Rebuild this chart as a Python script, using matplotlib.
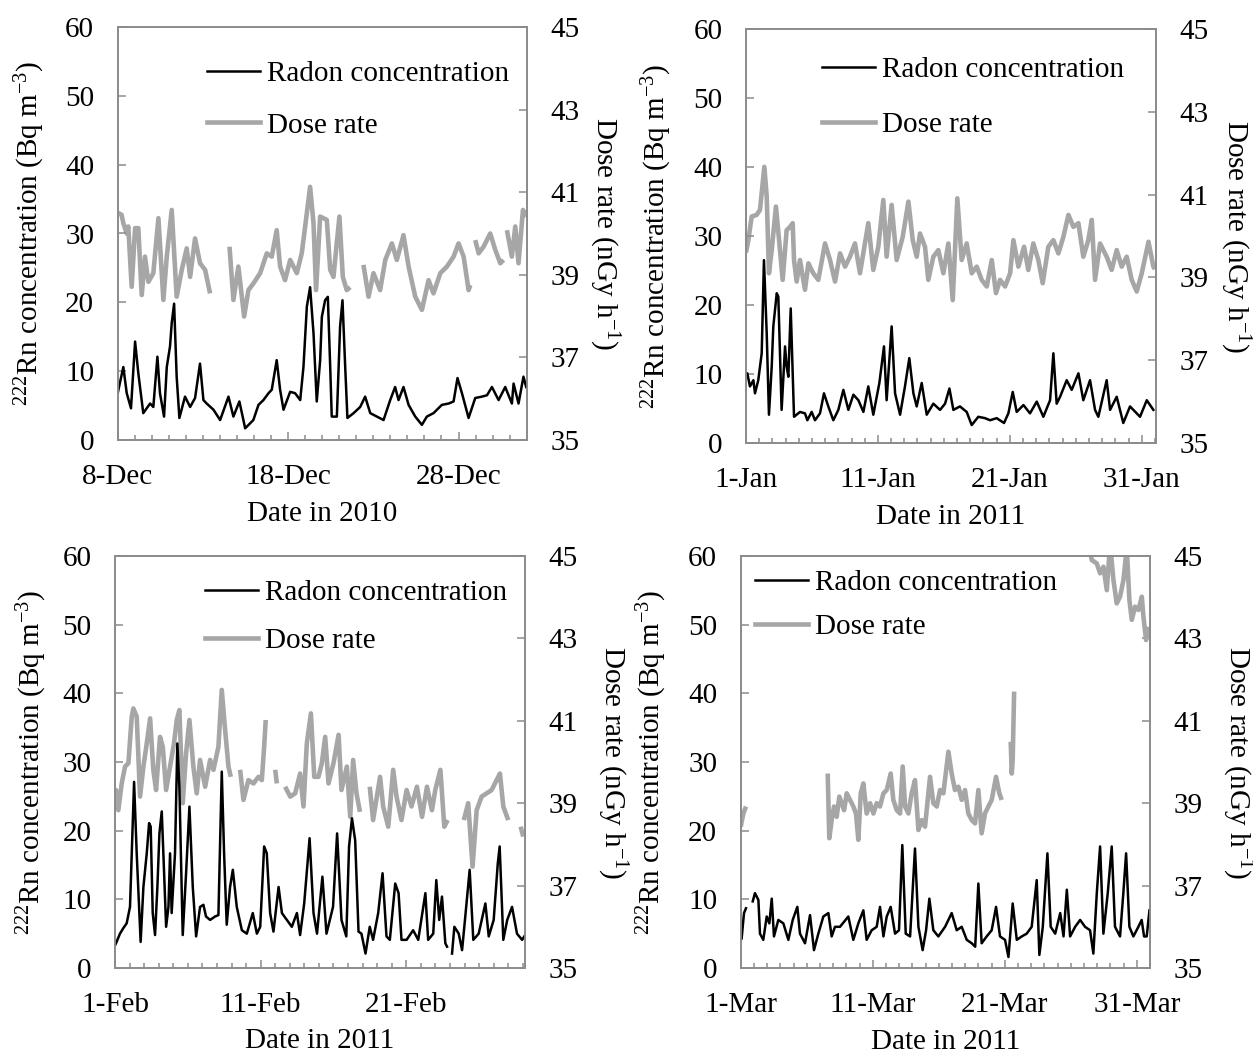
import numpy as np
import matplotlib
matplotlib.use("Agg")
import matplotlib.pyplot as plt
from matplotlib.ticker import FixedLocator, MultipleLocator
from matplotlib.lines import Line2D

plt.rcParams['font.family'] = ['Liberation Serif', 'DejaVu Serif']
plt.rcParams['mathtext.fontset'] = 'custom'
plt.rcParams['mathtext.rm'] = 'Liberation Serif'
plt.rcParams['mathtext.it'] = 'Liberation Serif:italic'
plt.rcParams['mathtext.bf'] = 'Liberation Serif:bold'
plt.rcParams['font.size'] = 21

N = None

# ---------------- Panel 1: Dec 2010 (days since 8-Dec) ----------------
p1_ticklabels = ['8-Dec', '18-Dec', '28-Dec']
p1_xlabel = 'Date in 2010'
p1_rn_t = [0.0, 0.33, 0.53, 0.78, 1.02, 1.21, 1.50, 1.90, 2.09, 2.33, 2.48, 2.72, 2.88, 3.07, 3.17, 3.31,
           3.46, 3.62, 3.95, 4.25, 4.54, 4.83, 5.03, 5.22, 5.62, 6.01, 6.50, 6.79, 7.14, 7.48, 7.96, 8.26,
           8.55, 8.85, 9.04, 9.33, 9.53, 9.73, 10.12, 10.41, 10.71, 10.90, 11.10, 11.29, 11.49, 11.68, 11.88,
           11.98, 12.17, 12.33, 12.47, 12.56, 12.86, 13.05, 13.19, 13.35, 13.48, 13.84, 14.23, 14.52, 14.82,
           15.21, 15.60, 15.99, 16.28, 16.48, 16.77, 17.07, 17.46, 17.85, 18.14, 18.53, 19.02, 19.42, 19.71,
           19.94, 20.20, 20.59, 20.98, 21.37, 21.67, 21.96, 22.35, 22.74, 23.13, 23.23, 23.52, 23.81, 23.97]
p1_rn_v = [6.8, 10.6, 6.8, 4.6, 14.3, 9.7, 3.9, 5.3, 4.8, 12.1, 6.8, 3.4, 10.6, 13.6, 17.0, 19.8,
           9.2, 3.2, 6.3, 4.8, 6.1, 11.1, 5.8, 5.3, 4.4, 2.9, 6.3, 3.4, 5.6, 1.7, 2.9, 5.1,
           5.8, 6.8, 7.3, 11.6, 7.3, 4.4, 7.0, 6.8, 5.8, 10.6, 19.4, 22.2, 15.5, 5.6, 11.6,
           17.9, 20.3, 20.8, 10.6, 3.4, 3.4, 16.5, 20.3, 10.6, 3.2, 3.9, 4.8, 6.3, 3.9,
           3.4, 2.9, 5.8, 7.7, 5.8, 7.7, 5.1, 3.4, 2.2, 3.4, 3.9, 5.1, 5.3, 5.6,
           9.0, 6.8, 3.2, 6.1, 6.3, 6.5, 7.7, 5.8, 7.7, 5.3, 8.2, 5.3, 9.2, 7.7]
p1_dr_t = [0.02, 0.23, 0.33, 0.53, 0.62, 0.82, 1.02, 1.21, 1.41, 1.60, 1.80, 2.09, 2.39, 2.68, 2.88, 3.17,
           3.46, 3.76, 4.05, 4.25, 4.54, 4.83, 5.13, 5.42, 5.90,
           6.56, 6.79, 7.08, 7.42, 7.67, 7.96, 8.36, 8.75, 9.04, 9.33, 9.53, 9.82, 10.12, 10.51, 10.80,
           11.00, 11.29, 11.49, 11.64, 11.88, 12.27, 12.47, 12.66, 13.01, 13.21, 13.44, 13.64, 14.00,
           14.42, 14.72, 15.01, 15.40, 15.70, 16.09, 16.38, 16.77, 17.07, 17.46, 17.85, 18.24, 18.53,
           18.93, 19.32, 19.71, 20.00, 20.30, 20.59, 20.69, 20.85,
           20.98, 21.18, 21.47, 21.86, 22.16, 22.45, 22.64, 22.75,
           22.84, 23.13, 23.33, 23.52, 23.78, 23.98]
p1_dr_v = [40.5, 40.45, 40.25, 40.0, 40.17, 38.71, 40.13, 40.13, 38.51, 39.44, 38.83, 39.04, 40.37, 38.39, 39.44, 40.57,
           38.47, 39.12, 39.64, 38.95, 39.88, 39.28, 39.12, 38.55, N,
           39.68, 38.39, 39.20, 37.99, 38.63, 38.79, 39.04, 39.52, 39.44, 40.08, 39.20, 38.87, 39.36, 39.04, 39.52,
           40.17, 41.13, 40.25, 38.63, 40.41, 40.33, 39.12, 38.95, 40.41, 38.95, 38.63, 38.70, N,
           39.24, 38.47, 39.04, 38.63, 39.36, 39.76, 39.36, 39.96, 39.20, 38.47, 38.15, 38.87, 38.55,
           39.04, 39.20, 39.44, 39.76, 39.44, 38.63, 38.75, N,
           39.84, 39.52, 39.68, 40.00, 39.60, 39.28, 39.36, N,
           40.08, 39.44, 40.17, 39.28, 40.57, 40.41]

# ---------------- Panel 2: Jan 2011 (days since 1-Jan) ----------------
p2_ticklabels = ['1-Jan', '11-Jan', '21-Jan', '31-Jan']
p2_xlabel = 'Date in 2011'
p2_rn_t = [0.0, 0.10, 0.30, 0.56, 0.68, 0.93, 1.19, 1.36, 1.57, 1.74, 1.95, 2.07, 2.33, 2.45, 2.70, 2.96, 3.08,
           3.21, 3.39, 3.64, 4.09, 4.47, 4.65, 4.98, 5.23, 5.61, 5.91, 6.24, 6.62, 7.00, 7.38, 7.76, 8.14,
           8.52, 8.90, 9.27, 9.65, 10.11, 10.46, 10.66, 11.04, 11.30, 11.68, 12.05, 12.38, 12.69, 12.94,
           13.32, 13.70, 14.20, 14.71, 15.09, 15.42, 15.72, 16.22, 16.73, 17.11, 17.61, 18.12, 18.50, 19.00,
           19.56, 19.89, 20.22, 20.52, 21.03, 21.53, 22.04, 22.54, 23.05, 23.30, 23.55, 23.81, 24.31, 24.69,
           25.20, 25.57, 26.08, 26.46, 26.71, 27.34, 27.60, 28.10, 28.60, 29.11, 29.87, 30.38, 30.88]
p2_rn_v = [10.0, 10.1, 8.2, 9.1, 7.2, 9.1, 13.0, 26.5, 15.9, 4.1, 11.1, 16.9, 21.7, 21.2, 4.8, 14.0, 11.1,
           9.6, 19.5, 3.8, 4.5, 4.3, 3.3, 4.5, 3.3, 4.3, 7.2, 5.3, 3.3, 4.8, 7.7, 4.8, 7.0,
           6.2, 4.5, 8.2, 4.1, 8.7, 14.0, 6.2, 16.9, 7.2, 4.1, 8.2, 12.3, 7.2, 5.3,
           8.7, 4.1, 5.7, 4.8, 5.7, 7.9, 4.8, 5.3, 4.5, 2.6, 3.8, 3.6, 3.3, 3.6,
           2.9, 4.3, 7.4, 4.5, 5.5, 4.3, 6.0, 3.8, 6.2, 13.0, 5.7, 6.7, 9.1, 7.7,
           10.1, 6.2, 9.1, 4.8, 3.8, 9.1, 4.8, 6.7, 2.9, 5.3, 3.8, 6.2, 4.8]
p2_dr_t = [0.0, 0.18, 0.43, 0.81, 1.06, 1.39, 1.57, 1.74, 1.95, 2.27, 2.53, 2.78, 3.08, 3.34, 3.54, 3.64, 3.84,
           4.09, 4.47, 4.73, 5.10, 5.48, 5.99, 6.37, 6.75, 7.13, 7.51, 7.88, 8.26, 8.64, 9.27, 9.65, 10.03,
           10.41, 10.66, 11.04, 11.42, 11.88, 12.31, 12.64, 12.94, 13.19, 13.57, 13.82, 14.20, 14.58, 14.96,
           15.34, 15.67, 16.02, 16.35, 16.73, 17.11, 17.49, 17.87, 18.25, 18.63, 18.95, 19.26, 19.64, 20.02,
           20.27, 20.65, 21.08, 21.40, 21.78, 22.16, 22.49, 22.92, 23.30, 23.68, 24.06, 24.44, 24.82, 25.20,
           25.57, 25.95, 26.21, 26.46, 26.84, 27.34, 27.72, 28.10, 28.48, 28.86, 29.24, 29.62, 30.00, 30.51,
           30.88, 31.0]
p2_dr_v = [39.6, 39.90, 40.47, 40.51, 40.63, 41.67, 40.95, 39.10, 39.66, 40.71, 39.82, 38.94, 40.14, 40.22, 40.31, 39.42, 38.90,
           39.42, 38.70, 39.34, 39.10, 38.94, 39.82, 39.42, 38.90, 39.58, 39.26, 39.50, 39.82, 39.10, 40.31, 39.18, 39.74,
           40.87, 39.50, 40.75, 39.42, 39.98, 40.83, 39.90, 39.50, 40.06, 39.74, 38.94, 39.50, 39.66, 39.10,
           39.82, 38.45, 40.91, 39.42, 39.82, 39.10, 39.26, 38.94, 38.78, 39.42, 38.62, 38.94, 38.78, 39.10,
           39.90, 39.26, 39.74, 39.18, 39.82, 39.42, 38.86, 39.74, 39.90, 39.58, 39.98, 40.51, 40.22, 40.31,
           39.50, 39.90, 40.39, 38.94, 39.82, 39.50, 39.18, 39.66, 39.26, 39.50, 38.94, 38.66, 39.10, 39.86,
           39.26, 39.20]

# ---------------- Panel 3: Feb 2011 (days since 1-Feb) ----------------
p3_ticklabels = ['1-Feb', '11-Feb', '21-Feb']
p3_xlabel = 'Date in 2011'
p3_rn_t = [0.0, 0.07, 0.34, 0.57, 0.80, 1.03, 1.31, 1.49, 1.76, 1.95, 2.18, 2.34, 2.45, 2.59, 2.75, 2.91, 3.05,
           3.21, 3.32, 3.51, 3.67, 3.78, 3.89, 4.12, 4.28, 4.42, 4.65, 4.88, 5.11, 5.34, 5.57, 5.84, 6.07,
           6.25, 6.53, 6.87, 7.10, 7.33, 7.49, 7.67, 7.90, 8.09, 8.36, 8.71, 9.05, 9.46, 9.74, 9.97, 10.24,
           10.42, 10.65, 10.88, 11.23, 11.46, 11.80, 12.14, 12.49, 12.71, 12.99, 13.36, 13.63, 13.87, 14.24,
           14.52, 14.97, 15.25, 15.55, 15.88, 16.07, 16.27, 16.49, 16.72, 16.92, 17.20, 17.49, 17.72, 18.07,
           18.37, 18.64, 18.87, 19.24, 19.47, 19.67, 20.02, 20.47, 20.82, 21.31, 21.50, 21.85, 22.06, 22.26,
           22.45, 22.68, 22.80, 23.00, 23.14, 23.30, 23.60, 23.83, 24.05, 24.35, 24.60, 24.97, 25.43, 25.66,
           26.00, 26.28, 26.41, 26.66, 26.93, 27.26, 27.60, 27.95, 28.10]
p3_rn_v = [3.3, 3.6, 5.0, 5.8, 6.5, 8.9, 27.1, 16.7, 3.8, 11.8, 16.7, 21.1, 20.6, 8.0, 4.8, 11.8, 19.6,
           22.8, 16.7, 6.0, 8.9, 16.7, 8.0, 16.7, 32.7, 26.4, 4.8, 13.8, 23.5, 11.8, 4.6, 8.9, 9.2,
           7.5, 7.0, 7.5, 7.7, 28.6, 16.7, 6.3, 11.8, 14.3, 8.9, 5.5, 5.0, 8.0, 5.0, 6.0, 17.7,
           16.7, 8.0, 5.3, 11.8, 8.0, 7.0, 6.0, 8.0, 4.8, 9.4, 18.9, 8.0, 5.0, 13.3,
           5.0, 8.9, 19.6, 7.0, 4.6, 17.7, 21.8, 18.6, 5.3, 5.0, 2.1, 6.0, 4.1, 8.0,
           13.8, 4.6, 4.1, 12.3, 10.9, 4.1, 4.1, 5.5, 4.1, 10.9, 4.1, 5.0, 12.8, 7.0,
           10.4, 3.6, 3.1, N, 2.1, 6.0, 5.0, 2.6, 7.5, 14.3, 4.1, 5.0, 9.4, 4.6,
           7.0, 15.2, 17.7, 4.1, 7.0, 8.9, 5.0, 4.1, 4.6]
p3_dr_t = [0.0, 0.07, 0.23, 0.46, 0.69, 0.92, 1.15, 1.26, 1.49, 1.72, 1.95, 2.18, 2.41, 2.63, 2.82, 3.09, 3.28,
           3.51, 3.78, 4.05, 4.24, 4.42, 4.65, 4.88, 5.11, 5.38, 5.61, 5.84, 6.19, 6.53, 6.76, 7.10, 7.33,
           7.56, 7.79, 7.95, 8.30,
           8.59, 8.82, 9.16, 9.51, 9.85, 10.08, 10.24, 10.35, 10.70,
           11.00, 11.11, 11.40,
           11.68, 12.03, 12.37, 12.71, 12.94, 13.17, 13.45, 13.68, 13.97, 14.20, 14.43, 14.66, 15.00, 15.35,
           15.55, 15.92, 16.15, 16.35, 16.58, 16.82, 17.20,
           17.49, 17.72, 17.98, 18.20, 18.41, 18.76, 19.10, 19.33, 19.67, 20.02, 20.36, 20.73, 21.08, 21.42,
           21.76, 21.99, 22.34, 22.61, 22.84, 23.40,
           23.95, 24.25, 24.55, 24.83, 25.17, 25.52, 25.86, 26.20, 26.43, 26.66, 27.00, 27.40,
           27.85, 28.03]
p3_dr_v = [39.1, 39.32, 38.83, 39.48, 39.89, 39.97, 41.10, 41.30, 41.10, 39.16, 39.89, 40.45, 41.06, 39.81, 39.32, 40.61, 40.37,
           39.32, 39.89, 40.45, 41.02, 41.26, 39.00, 40.21, 41.02, 39.89, 39.24, 40.05, 39.40, 40.05, 39.81, 40.37, 41.75,
           40.78, 39.89, 39.64, N,
           39.81, 39.08, 39.56, 39.48, 39.64, 39.56, 40.37, 41.02, N,
           39.81, 39.48, N,
           39.40, 39.16, 39.24, 39.72, 38.92, 40.45, 41.18, 39.64, 39.64, 39.97, 40.61, 39.48, 39.97, 40.66,
           39.32, 39.89, 38.67, 40.05, 39.24, 38.79, N,
           39.40, 38.59, 39.16, 39.64, 38.92, 38.43, 39.81, 39.16, 38.59, 39.32, 38.92, 39.40, 38.67, 39.40,
           38.83, 39.32, 39.81, 38.43, 38.59, N,
           38.59, 39.00, 37.46, 38.83, 39.16, 39.24, 39.32, 39.56, 39.72, 38.92, 38.59, N,
           38.43, 38.19]

# ---------------- Panel 4: Mar 2011 (days since 1-Mar) ----------------
p4_ticklabels = ['1-Mar', '11-Mar', '21-Mar', '31-Mar']
p4_xlabel = 'Date in 2011'
p4_rn_t = [0.07, 0.25, 0.40, 0.65, 0.91, 1.08, 1.34, 1.46, 1.71, 1.97, 2.17, 2.35, 2.52, 2.85, 3.23, 3.61, 3.94,
           4.29, 4.49, 4.87, 5.25, 5.55, 5.88, 6.26, 6.64, 6.89, 7.14, 7.52, 8.15, 8.53, 8.91, 9.29, 9.54,
           9.92, 10.30, 10.55, 10.81, 11.06, 11.36, 11.69, 11.99, 12.24, 12.50, 12.83, 13.20, 13.46, 13.78,
           14.04, 14.29, 14.59, 14.97, 15.48, 15.98, 16.36, 16.74, 17.12, 17.50, 17.76, 18.00, 18.25, 18.63,
           19.01, 19.34, 19.64, 20.02, 20.28, 20.60, 20.91, 21.29, 21.66, 22.04, 22.42, 22.62, 22.88, 23.23,
           23.48, 23.82, 24.20, 24.45, 24.70, 24.95, 25.33, 25.71, 26.08, 26.46, 26.71, 26.97, 27.22, 27.47,
           27.80, 28.10, 28.35, 28.73, 28.98, 29.19, 29.44, 29.74, 30.12, 30.37, 30.55, 30.75, 30.96]
p4_rn_v = [4.3, 8.0, 8.7, N, 9.7, 10.9, 9.9, 5.0, 4.1, 7.5, 6.5, 10.1, 4.6, 7.0, 6.5, 4.1, 7.0,
           8.9, 5.0, 3.6, 7.7, 2.6, 5.0, 7.5, 8.0, 4.6, 6.0, 6.0, 7.5, 4.1, 6.5, 8.4, 4.1,
           5.5, 6.0, 8.9, 4.6, 7.5, 8.9, 5.0, 5.5, 17.9, 5.0, 4.6, 17.4, 6.0, 2.6,
           5.5, 10.1, 5.5, 4.6, 6.0, 8.0, 5.5, 6.0, 4.1, 3.6, 3.1, 12.3, 3.6, 4.6,
           5.5, 8.9, 4.6, 4.1, 1.6, 9.4, 4.1, 4.6, 5.0, 6.0, 12.8, 1.9, 6.0, 16.7,
           6.0, 5.0, 8.0, 4.6, 11.4, 4.6, 6.0, 7.0, 6.0, 5.5, 2.1, 10.9, 17.7, 5.0,
           10.9, 17.7, 6.0, 4.6, 10.9, 16.7, 6.0, 4.6, 6.0, 7.0, 4.6, 4.6, 8.4]
p4_dr_t = [0.0, 0.20, 0.40, 3.00,
           6.59, 6.71, 6.89, 7.07, 7.27, 7.47, 7.65, 7.83, 8.03, 8.28, 8.53, 8.73, 8.91, 9.09, 9.29, 9.54,
           9.80, 10.05, 10.30, 10.55, 10.81, 11.06, 11.36, 11.56, 11.82, 12.07, 12.27, 12.45, 12.70, 12.95,
           13.20, 13.46, 13.71, 13.96, 14.34, 14.59, 14.85, 15.10, 15.35, 15.73, 15.98, 16.23, 16.49, 16.74,
           16.99, 17.24, 17.50, 17.75, 18.00, 18.25, 18.50, 18.76, 19.01, 19.34, 19.59, 19.77, 20.10,
           20.45, 20.53, 20.60, 20.71, 22.0,
           26.20, 26.59, 26.97, 27.22, 27.47, 27.73, 27.98, 28.23, 28.48, 28.73, 28.99, 29.24, 29.44, 29.62,
           29.87, 30.12, 30.38, 30.50, 30.70, 30.88]
p4_dr_v = [38.43, 38.75, 38.92, N,
           39.72, 38.15, 38.59, 38.92, 38.67, 39.16, 39.00, 38.83, 39.24, 39.08, 38.92, 38.75, 38.11, 39.24, 39.48, 38.75,
           39.00, 38.75, 39.00, 38.92, 39.24, 39.32, 39.72, 39.08, 38.83, 38.75, 39.89, 38.92, 38.75, 39.24,
           39.56, 38.35, 38.59, 38.43, 39.64, 39.00, 38.92, 39.32, 39.24, 40.25, 39.72, 39.32, 39.40, 39.08,
           39.32, 38.75, 38.59, 38.51, 39.32, 38.27, 38.75, 38.92, 39.08, 39.64, 39.24, 39.08, N,
           40.49, 39.72, 40.05, 41.71, N,
           45.6, 44.9, 44.82, 44.58, 44.74, 44.17, 45.3, 44.42, 43.85, 44.01, 44.42, 45.2, 43.93, 43.45,
           43.77, 43.69, 44.01, 43.53, 42.96, 43.28]

legend_labels = ['Radon concentration', 'Dose rate']
left_ylabel = r'$^{222}$Rn concentration (Bq m$^{-3}$)'
right_ylabel = r'Dose rate (nGy h$^{-1}$)'
rn_ticks = [0, 10, 20, 30, 40, 50, 60]
dr_ticks = [35, 37, 39, 41, 43, 45]

W, H = 1253, 1057
fig = plt.figure(figsize=(W / 100, H / 100), dpi=100)

SPINE = '#8c8c8c'
GRAY = '#a6a6a6'
FS = 21

panels = [
    dict(px=(117.7, 526.7, 27, 440), xmax=24.0, majors=[0, 10, 20], tl=p1_ticklabels, xl=p1_xlabel,
         rn=(p1_rn_t, p1_rn_v), dr=(p1_dr_t, p1_dr_v), ly=30, ry=604, xly=514, xpad=17,
         leg=(207, 77), sp=0.85),
    dict(px=(746, 1156, 29, 443), xmax=31.08, majors=[0, 10, 20, 30], tl=p2_ticklabels, xl=p2_xlabel,
         rn=(p2_rn_t, p2_rn_v), dr=(p2_dr_t, p2_dr_v), ly=657, ry=1235, xly=517, xpad=17,
         leg=(822, 73), sp=0.98),
    dict(px=(115, 525, 556, 968), xmax=28.15, majors=[0, 10, 20], tl=p3_ticklabels, xl=p3_xlabel,
         rn=(p3_rn_t, p3_rn_v), dr=(p3_dr_t, p3_dr_v), ly=32, ry=612, xly=1041, xpad=17,
         leg=(205, 596), sp=0.73),
    dict(px=(740.7, 1150, 556, 968), xmax=31.0, majors=[0, 10, 20, 30], tl=p4_ticklabels, xl=p4_xlabel,
         rn=(p4_rn_t, p4_rn_v), dr=(p4_dr_t, p4_dr_v), ly=652, ry=1237, xly=1042, xpad=17,
         leg=(755, 586), sp=0.58),
]

for p in panels:
    l, r, t, b = p['px']
    ax = fig.add_axes([l / W, 1 - b / H, (r - l) / W, (b - t) / H])
    ax2 = ax.twinx()
    ax.set_zorder(ax2.get_zorder() + 1)
    ax.patch.set_visible(False)

    rt, rv = p['rn']
    dt, dv = p['dr']
    ax2.plot(dt, np.array(dv, dtype=float), color=GRAY, lw=3.3, solid_capstyle='butt')
    ax.plot(rt, np.array(rv, dtype=float), color='black', lw=1.8)

    ax.set_xlim(0, p['xmax'])
    ax.set_ylim(0, 60)
    ax2.set_ylim(35, 45)
    ax.yaxis.set_major_locator(FixedLocator(rn_ticks))
    ax2.yaxis.set_major_locator(FixedLocator(dr_ticks))
    ax.xaxis.set_major_locator(FixedLocator(p['majors']))
    ax.xaxis.set_minor_locator(MultipleLocator(1))
    ax.set_xticklabels(p['tl'])

    for a in (ax, ax2):
        for s in a.spines.values():
            s.set_color(SPINE)
            s.set_linewidth(1.3)
    ax.tick_params(axis='y', direction='in', length=6, width=1.1, color=SPINE, pad=17, labelsize=FS)
    ax2.tick_params(axis='y', direction='in', length=6, width=1.1, color=SPINE, pad=17, labelsize=FS)
    ax.tick_params(axis='x', which='major', direction='in', length=6, width=1.1, color=SPINE,
                   pad=p['xpad'], labelsize=FS)
    ax.tick_params(axis='x', which='minor', direction='in', length=3.5, width=1.1, color=SPINE)

    w_ax = r - l
    h_ax = b - t
    ax.set_ylabel(left_ylabel, fontsize=FS)
    ax.yaxis.label.set_va('center')
    ax.yaxis.set_label_coords((p['ly'] - l) / w_ax, 0.5)
    ax2.set_ylabel(right_ylabel, fontsize=FS, rotation=270)
    ax2.yaxis.label.set_va('center')
    ax2.yaxis.set_label_coords((p['ry'] - l) / w_ax, 0.5)
    ax.set_xlabel(p['xl'], fontsize=FS)
    ax.xaxis.label.set_va('center')
    ax.xaxis.set_label_coords(0.5, (b - p['xly']) / h_ax)

    handles = [Line2D([], [], color='black', lw=1.8), Line2D([], [], color=GRAY, lw=3.3)]
    lx, lyy = p['leg']
    ax.legend(handles, legend_labels, loc='upper left', frameon=False, fontsize=FS,
              bbox_to_anchor=((lx - l) / w_ax, (b - (lyy - 16)) / h_ax), borderaxespad=0, borderpad=0,
              handlelength=1.8, handletextpad=0.25, labelspacing=p['sp'])

fig.savefig('out.png', dpi=100)
